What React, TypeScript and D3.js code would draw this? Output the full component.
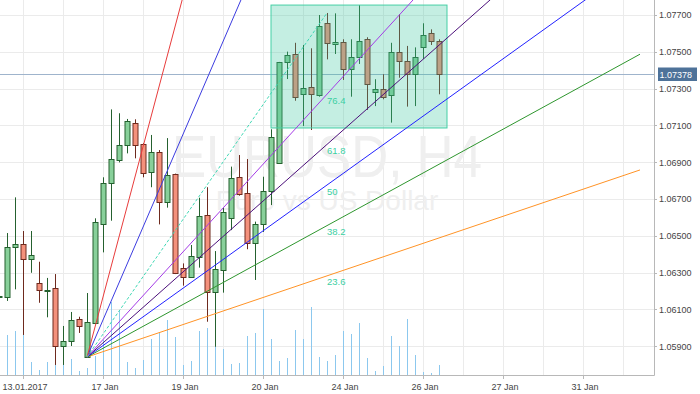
import React from "react";
import * as d3 from "d3";

// ---------- data ----------
const startIndex = -1;
const opens = [1.06167,1.06169,1.06441,1.06455,1.06372,1.06242,1.06205,1.06215,1.05901,1.05928,1.06048,1.05843,1.06026,1.06562,1.06785,1.06912,1.06993,1.07111,1.06997,1.06845,1.06958,1.06682,1.06834,1.06323,1.06278,1.06386,1.06613,1.06193,1.06314,1.06595,1.06818,1.06731,1.06459,1.06562,1.06745,1.06894,1.07443,1.07486,1.07269,1.07307,1.07265,1.07658,1.07541,1.07552,1.07405,1.07473,1.07568,1.07280,1.07296,1.07265,1.07497,1.07452,1.07380,1.07524,1.07601,1.07560];
const highs = [1.06189,1.06515,1.06709,1.06526,1.06526,1.06359,1.06271,1.06292,1.06010,1.06086,1.06060,1.06189,1.06595,1.06818,1.07187,1.07166,1.07135,1.07133,1.07004,1.07048,1.06966,1.07031,1.06838,1.06350,1.06450,1.06707,1.06764,1.06417,1.06651,1.06876,1.06939,1.06917,1.06577,1.06821,1.07079,1.07445,1.07501,1.07549,1.07537,1.07519,1.07700,1.07711,1.07709,1.07568,1.07568,1.07754,1.07579,1.07351,1.07378,1.07549,1.07705,1.07532,1.07524,1.07655,1.07622,1.07568];
const lows = [1.06151,1.06146,1.06209,1.05961,1.06299,1.06136,1.06057,1.05798,1.05798,1.05901,1.05972,1.05841,1.06024,1.06410,1.06582,1.06899,1.06948,1.06921,1.06818,1.06764,1.06562,1.06653,1.06292,1.06229,1.06272,1.06327,1.06033,1.05897,1.06191,1.06531,1.06718,1.06427,1.06260,1.06521,1.06667,1.06893,1.07352,1.07234,1.07097,1.07075,1.07256,1.07459,1.07488,1.07347,1.07256,1.07434,1.07184,1.07205,1.07242,1.07115,1.07359,1.07202,1.07205,1.07461,1.07537,1.07269];
const closes = [1.06172,1.06441,1.06455,1.06372,1.06396,1.06205,1.06206,1.05901,1.05928,1.06042,1.06010,1.06029,1.06573,1.06785,1.06916,1.06993,1.07124,1.06993,1.06840,1.06957,1.06682,1.06828,1.06296,1.06278,1.06390,1.06608,1.06193,1.06318,1.06628,1.06812,1.06726,1.06462,1.06562,1.06745,1.07039,1.07443,1.07483,1.07256,1.07302,1.07269,1.07640,1.07546,1.07552,1.07405,1.07473,1.07560,1.07323,1.07296,1.07256,1.07497,1.07448,1.07378,1.07473,1.07590,1.07559,1.07378];
const volumes = [1500,4000,4400,4000,1300,500,1300,1300,1100,1600,400,700,1900,3500,7300,6400,1300,700,1500,3600,4200,5500,3800,1000,1400,4400,4700,2900,2600,1100,1200,3900,4200,6600,3600,1400,1700,4500,3600,6800,1800,1400,2000,4400,4100,5200,1700,400,900,3900,2900,5600,2000,300,200,1000];

const priceTicks = [1.059,1.061,1.063,1.065,1.067,1.069,1.071,1.073,1.075,1.077];
const dateTickIndices = [2,12,22,32,42,52,62,72];
const dateTickLabels = ["13.01.2017","17 Jan","19 Jan","20 Jan","24 Jan","26 Jan","27 Jan","31 Jan"];
const currentPrice = 1.07378;

// Fibonacci fan: from low of candle 10 to high of candle 40
const fanStartIndex = 10;
const fanEndIndex = 40;
const fanExtendIndex = 79.125;
const fanLevels = [0.236, 0.382, 0.5, 0.618, 0.764, 1.618, 2.618];
const fanLabels = ["23.6", "38.2", "50", "61.8", "76.4", "", ""];
const fanColors = ["#ff9326", "#2e962e", "#2222ff", "#4b0f7a", "#a43be6", "#3c3ce0", "#e83c3c"];

// rectangle drawing
const boxStartIndex = 33;
const boxEndIndex = 55;
const boxTop = 1.07754;
const boxBottom = 1.07086;

// ---------- layout ----------
const W = 700, H = 394;
const plotRight = 654, plotBottom = 375;

export default function App() {
  const x = d3.scaleLinear().domain([0, 1]).range([7, 15]);
  const y = d3.scaleLinear().domain([1.059, 1.077]).range([346.2, 15]);
  const v = d3.scaleLinear().domain([0, 10000]).range([plotBottom, plotBottom - 100]);
  const fmt = d3.format(".5f");

  const candles = opens.map((o, k) => ({
    i: startIndex + k, o, h: highs[k], l: lows[k], c: closes[k], vol: volumes[k],
  }));

  const A = { i: fanStartIndex, p: lows[fanStartIndex - startIndex] };
  const B = { i: fanEndIndex, p: highs[fanEndIndex - startIndex] };
  const line = d3.line<[number, number]>().x(d => x(d[0])).y(d => y(d[1]));

  const gridIdx = d3.range(2, 80, 5);
  const font = "'Liberation Sans', Arial, sans-serif";

  return (
    <svg width={W} height={H} style={{ position: "absolute", left: 0, top: 0, background: "#fff" }}
      fontFamily={font}>
      <defs>
        <clipPath id="plot"><rect x={0} y={0} width={plotRight} height={plotBottom} /></clipPath>
      </defs>
      <rect x={0} y={0} width={W} height={H} fill="#fff" />
      {/* grid */}
      <g stroke="#ebebeb" strokeWidth={1}>
        {priceTicks.map(p => (
          <line key={p} x1={0} x2={plotRight} y1={Math.round(y(p)) + 0.5} y2={Math.round(y(p)) + 0.5} />
        ))}
        {gridIdx.map(i => (
          <line key={i} x1={Math.round(x(i)) + 0.5} x2={Math.round(x(i)) + 0.5} y1={0} y2={plotBottom} />
        ))}
      </g>
      {/* watermark */}
      <text x={327} y={177} textAnchor="middle" fontSize={60} fill="#efefef" textLength={310}
        lengthAdjust="spacingAndGlyphs">EURUSD, H4</text>
      <text x={327} y={210} textAnchor="middle" fontSize={28} fill="#efefef">Euro vs US Dollar</text>

      <g clipPath="url(#plot)">
        {/* volumes */}
        <g stroke="#8cc8ee" strokeWidth={1}>
          {candles.map(d => (
            <line key={d.i} x1={Math.round(x(d.i)) + 0.5} x2={Math.round(x(d.i)) + 0.5} y1={plotBottom} y2={v(d.vol)} />
          ))}
        </g>
        {/* current price line */}
        <line x1={0} x2={plotRight} y1={Math.round(y(currentPrice)) + 0.5} y2={Math.round(y(currentPrice)) + 0.5}
          stroke="#9fb4cc" strokeWidth={1} />
        {/* candles */}
        {candles.map(d => {
          const up = d.c >= d.o;
          const cx = Math.round(x(d.i)) + 0.5;
          const top = Math.round(y(Math.max(d.o, d.c)));
          const bot = Math.round(y(Math.min(d.o, d.c)));
          const stroke = up ? "#25612f" : "#6e2a1e";
          return (
            <g key={d.i}>
              <line x1={cx} x2={cx} y1={y(d.h)} y2={y(d.l)} stroke={stroke} strokeWidth={1} />
              <rect x={cx - 2.5} y={top + 0.5} width={5} height={Math.max(bot - top, 1)}
                fill={up ? "#88d09a" : "#f4917c"} stroke={stroke} strokeWidth={1} />
            </g>
          );
        })}
        {/* rectangle */}
        <rect x={x(boxStartIndex)} y={y(boxTop)} width={x(boxEndIndex) - x(boxStartIndex)}
          height={y(boxBottom) - y(boxTop)} fill="rgb(60,200,160)" fillOpacity={0.3}
          stroke="#45cfa5" strokeWidth={1} />
        {/* fan lines */}
        {fanLevels.map((L, k) => {
          const pB = A.p + L * (B.p - A.p);
          const pEnd = A.p + (pB - A.p) * (fanExtendIndex - A.i) / (B.i - A.i);
          return (
            <path key={L} d={line([[A.i, A.p], [fanExtendIndex, pEnd]]) || ""} fill="none"
              stroke={fanColors[k]} strokeWidth={1} />
          );
        })}
        <path d={line([[A.i, A.p], [B.i, B.p]]) || ""} fill="none" stroke="#3fd8b4" strokeWidth={1}
          strokeDasharray="3,2" />
        {fanLevels.map((L, k) => fanLabels[k] ? (
          <text key={"l" + L} x={x(B.i)} y={y(A.p + L * (B.p - A.p)) + 9.5} fontSize={9.5} fill="#3ccfa2">
            {fanLabels[k]}
          </text>
        ) : null)}
      </g>

      {/* axes */}
      <line x1={plotRight + 0.5} x2={plotRight + 0.5} y1={0} y2={plotBottom + 0.5} stroke="#b8b8b8" />
      <line x1={0} x2={plotRight + 0.5} y1={plotBottom + 0.5} y2={plotBottom + 0.5} stroke="#b8b8b8" />
      {priceTicks.map(p => (
        <g key={p}>
          <line x1={plotRight} x2={plotRight + 3} y1={Math.round(y(p)) + 0.5} y2={Math.round(y(p)) + 0.5} stroke="#b8b8b8" />
          <text x={659} y={y(p) + 3.3} fontSize={9} fill="#444">{fmt(p)}</text>
        </g>
      ))}
      {dateTickIndices.map((i, k) => (
        <g key={i}>
          <line x1={Math.round(x(i)) + 0.5} x2={Math.round(x(i)) + 0.5} y1={plotBottom} y2={plotBottom + 4} stroke="#b8b8b8" />
          <text x={x(i) + 2} y={389.5} fontSize={9} fill="#444" textAnchor="middle">{dateTickLabels[k]}</text>
        </g>
      ))}
      {/* current price label */}
      <rect x={658} y={67.5} width={39} height={13.5} fill="#4e7299" />
      <text x={659.5} y={y(currentPrice) + 3.3} fontSize={9} fill="#fff">{fmt(currentPrice)}</text>
    </svg>
  );
}
